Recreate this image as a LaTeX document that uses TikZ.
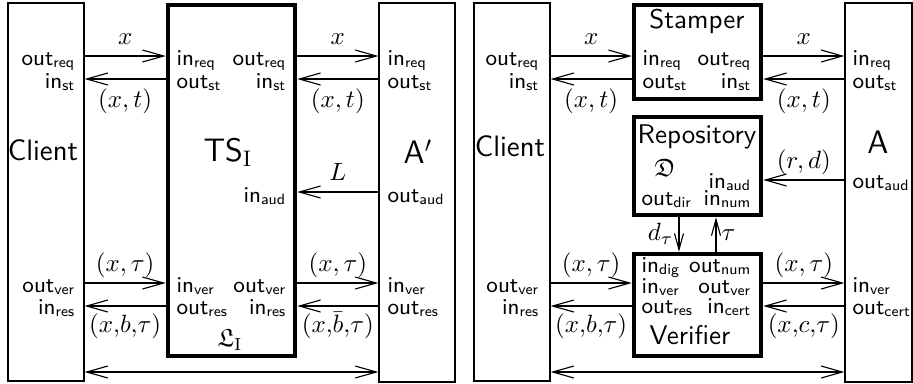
\documentclass[tikz,border=0pt]{standalone}
\usepackage{amsmath}
\usepackage{amssymb}
\usepackage{tikz}
\usetikzlibrary{arrows.meta}

\begin{document}
\begin{tikzpicture}[x=0.4pt, y=-0.4pt, line width=0.45pt,
    >={Straight Barb[length=8.5pt,width=4.8pt]},
    box/.style={draw, line width=0.45pt, inner sep=0pt},
    sys/.style={draw, line width=1.8pt, inner sep=0pt},
    pe/.style={font=\small\sffamily, inner sep=0pt, anchor=base east},
    pw/.style={font=\small\sffamily, inner sep=0pt, anchor=base west},
    title/.style={font=\fontsize{10.8}{13}\sffamily, anchor=base},
    big/.style={font=\fontsize{13}{15}\sffamily, anchor=base},
    lbl/.style={inner sep=2pt, text height=7.5pt, text depth=2.5pt},
    short/.style={>={Straight Barb[length=6.5pt,width=3.6pt]}}]
    \useasboundingbox (0,0) rectangle (913,383);

    \coordinate (rq) at (0,56);
    \coordinate (sr) at (0,79);
    \coordinate (au) at (0,192);
    \coordinate (ad) at (0,180);
    \coordinate (vr) at (0,283);
    \coordinate (rs) at (0,306);
    \coordinate (bt) at (0,372);
    \coordinate (dn) at (679,0);
    \coordinate (up) at (716,0);

    \node[box, minimum width=30.4pt, minimum height=151.2pt] (client) at (46,192) {};
    \node[sys, minimum width=50.8pt, minimum height=140.4pt] (ts) at (231.5,180.5) {};
    \node[box, minimum width=30.4pt, minimum height=151.6pt] (advp) at (417,192.5) {};

    \node[title, font=\fontsize{11.8}{14}\sffamily] (clientname) at (43,160) {Client};
    \node[big] (tsname) at (228,161) {TS$_\mathrm{I}$};
    \node[big] (advpname) at (418,163) {A$'$};
    \node (ledger) at (230,340) {$\mathfrak{L}_\mathrm{I}$};

    \node[pe] (c-oreq) at (76,65) {out\textsubscript{req}};
    \node[pe] (c-ist) at (76,88) {in\textsubscript{st}};
    \node[pe] (c-over) at (76,292) {out\textsubscript{ver}};
    \node[pe] (c-ires) at (76,314) {in\textsubscript{res}};

    \node[pw] (t-ireq) at (176,65) {in\textsubscript{req}};
    \node[pw] (t-ost) at (176,88) {out\textsubscript{st}};
    \node[pw] (t-iver) at (176,292) {in\textsubscript{ver}};
    \node[pw] (t-ores) at (176,314) {out\textsubscript{res}};
    \node[pe] (t-oreq) at (287,65) {out\textsubscript{req}};
    \node[pe] (t-ist) at (287,88) {in\textsubscript{st}};
    \node[pe] (t-iaud) at (287,202) {in\textsubscript{aud}};
    \node[pe] (t-over) at (287,292) {out\textsubscript{ver}};
    \node[pe] (t-ires) at (287,314) {in\textsubscript{res}};

    \node[pw] (p-ireq) at (387,65) {in\textsubscript{req}};
    \node[pw] (p-ost) at (387,88) {out\textsubscript{st}};
    \node[pw] (p-oaud) at (387,202) {out\textsubscript{aud}};
    \node[pw] (p-iver) at (387,292) {in\textsubscript{ver}};
    \node[pw] (p-ores) at (387,314) {out\textsubscript{res}};

    \draw[->] (client.east |- rq) -- node[lbl, above] {$x$} (ts.west |- rq);
    \draw[->] (ts.west |- sr) -- node[lbl, below=1.5pt] {$(x, t)$} (client.east |- sr);
    \draw[->] (ts.east |- rq) -- node[lbl, above] {$x$} (advp.west |- rq);
    \draw[->] (advp.west |- sr) -- node[lbl, below=1.5pt] {$(x, t)$} (ts.east |- sr);
    \draw[->] (advp.west |- au) -- node[lbl, above] {$L$} (ts.east |- au);
    \draw[->] (client.east |- vr) -- node[lbl, above] {$(x, \tau)$} (ts.west |- vr);
    \draw[->] (ts.west |- rs) -- node[lbl, below=1pt] {$(x{,}b{,}\tau)$} (client.east |- rs);
    \draw[->] (ts.east |- vr) -- node[lbl, above] {$(x, \tau)$} (advp.west |- vr);
    \draw[->] (advp.west |- rs) -- node[lbl, below=1pt] {$(x{,}\bar{b}{,}\tau)$} (ts.east |- rs);
    \draw[<->] (client.east |- bt) -- (advp.west |- bt);

    \node[box, minimum width=30.4pt, minimum height=151.2pt] (client2) at (512,192) {};
    \node[sys, minimum width=50.8pt, minimum height=37.6pt] (stamper) at (697.5,52) {};
    \node[sys, minimum width=50.8pt, minimum height=39.2pt] (repo) at (697.5,166) {};
    \node[sys, minimum width=50.8pt, minimum height=40.8pt] (verifier) at (697.5,305) {};
    \node[box, minimum width=26.8pt, minimum height=151.6pt] (adv) at (878.5,192.5) {};

    \node[title, font=\fontsize{11.8}{14}\sffamily] (client2name) at (510,156) {Client};
    \node[title] (stampername) at (697,28) {Stamper};
    \node[title] (reponame) at (697,143) {Repository};
    \node[title] (verifiername) at (690,344) {Verifier};
    \node[big] (advname) at (878,153) {A};
    \node (dir) at (665,168) {$\mathfrak{D}$};

    \node[pe] (d-oreq) at (540,65) {out\textsubscript{req}};
    \node[pe] (d-ist) at (540,88) {in\textsubscript{st}};
    \node[pe] (d-over) at (540,292) {out\textsubscript{ver}};
    \node[pe] (d-ires) at (540,314) {in\textsubscript{res}};

    \node[pw] (s-ireq) at (642,65) {in\textsubscript{req}};
    \node[pw] (s-ost) at (642,88) {out\textsubscript{st}};
    \node[pe] (s-oreq) at (752,65) {out\textsubscript{req}};
    \node[pe] (s-ist) at (752,88) {in\textsubscript{st}};

    \node[pe] (r-iaud) at (752,188) {in\textsubscript{aud}};
    \node[pe] (r-inum) at (752,205) {in\textsubscript{num}};
    \node[pw] (r-odir) at (641,205) {out\textsubscript{dir}};

    \node[pw] (v-idig) at (641,272) {in\textsubscript{dig}};
    \node[pw] (v-iver) at (641,293) {in\textsubscript{ver}};
    \node[pw] (v-ores) at (641,313) {out\textsubscript{res}};
    \node[pe] (v-onum) at (752,272) {out\textsubscript{num}};
    \node[pe] (v-over) at (752,293) {out\textsubscript{ver}};
    \node[pe] (v-icert) at (752,313) {in\textsubscript{cert}};

    \node[pw] (a-ireq) at (852,65) {in\textsubscript{req}};
    \node[pw] (a-ost) at (852,88) {out\textsubscript{st}};
    \node[pw] (a-oaud) at (852,188) {out\textsubscript{aud}};
    \node[pw] (a-iver) at (852,292) {in\textsubscript{ver}};
    \node[pw] (a-ocert) at (852,314) {out\textsubscript{cert}};

    \draw[->] (client2.east |- rq) -- node[lbl, above] {$x$} (stamper.west |- rq);
    \draw[->] (stamper.west |- sr) -- node[lbl, below=1.5pt] {$(x, t)$} (client2.east |- sr);
    \draw[->] (stamper.east |- rq) -- node[lbl, above] {$x$} (adv.west |- rq);
    \draw[->] (adv.west |- sr) -- node[lbl, below=1.5pt] {$(x, t)$} (stamper.east |- sr);
    \draw[->] (adv.west |- ad) -- node[lbl, above] {$(r, d)$} (repo.east |- ad);
    \draw[->, short] (repo.south -| dn) -- node[lbl, left] {$d_\tau$} (verifier.north -| dn);
    \draw[->, short] (verifier.north -| up) -- node[lbl, right] {$\tau$} (repo.south -| up);
    \draw[->] (client2.east |- vr) -- node[lbl, above] {$(x, \tau)$} (verifier.west |- vr);
    \draw[->] (verifier.west |- rs) -- node[lbl, below=1pt] {$(x{,}b{,}\tau)$} (client2.east |- rs);
    \draw[->] (verifier.east |- vr) -- node[lbl, above] {$(x, \tau)$} (adv.west |- vr);
    \draw[->] (adv.west |- rs) -- node[lbl, below=1pt] {$(x{,}c{,}\tau)$} (verifier.east |- rs);
    \draw[<->] (client2.east |- bt) -- (adv.west |- bt);
\end{tikzpicture}
\end{document}
